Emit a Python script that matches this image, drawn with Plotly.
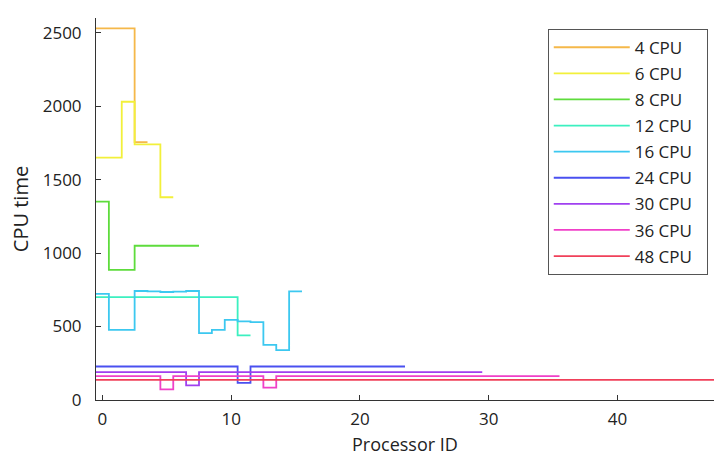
import numpy as np
import plotly.graph_objects as go

series_names = ["4 CPU", "6 CPU", "8 CPU", "12 CPU", "16 CPU", "24 CPU", "30 CPU", "36 CPU", "48 CPU"]

cpu4 = [2530, 2530, 2530, 1755]
cpu6 = [1650, 1650, 2030, 1740, 1740, 1380]
cpu8 = [1350, 885, 885, 1050, 1050, 1050, 1050, 1050]
cpu12 = [700] * 11 + [440]
cpu16 = [722, 477, 477, 742, 740, 735, 738, 742, 455, 477, 545, 535, 530, 375, 340, 740]
cpu24 = [228] * 11 + [116] + [228] * 12
cpu30 = [190] * 7 + [100] + [190] * 22
cpu36 = [162] * 5 + [72] + [162] * 7 + [84] + [162] * 22
cpu48 = [137] * 48

series_values = [cpu4, cpu6, cpu8, cpu12, cpu16, cpu24, cpu30, cpu36, cpu48]
colors = ["#F5B84A", "#F2F03A", "#5EDC3C", "#3CF0C0", "#3CC8F0",
          "#4A50F0", "#A040F0", "#F040C8", "#F0405A"]

fig = go.Figure()
for name, vals, col in zip(series_names, series_values, colors):
    n = len(vals)
    xs = np.arange(n + 1) - 0.5
    ys = list(vals) + [vals[-1]]
    fig.add_trace(go.Scatter(x=xs, y=ys, mode="lines", name=name + "\u00a0\u00a0",
                             legendgroup=name,
                             line=dict(color=col, width=1.8, shape="hv")))

font = "Open Sans, Lato, sans-serif"
fig.update_layout(
    width=714, height=455,
    margin=dict(l=96, r=0, t=18, b=55),
    paper_bgcolor="white", plot_bgcolor="white",
    font=dict(family=font, size=17, color="#222"),
    showlegend=True,
    legend=dict(x=0.731, y=0.972, xanchor="left", yanchor="top",
                bordercolor="#555", borderwidth=1, bgcolor="white",
                font=dict(size=17), itemwidth=76, tracegroupgap=1),
    xaxis=dict(range=[-0.5, 47.5], tickvals=[0, 10, 20, 30, 40],
               showgrid=False, zeroline=False, showline=True, linecolor="#333",
               linewidth=1, ticks="inside", ticklen=5, tickcolor="#333",
               ticklabelstandoff=4),
    yaxis=dict(range=[0, 2600], tickvals=[0, 500, 1000, 1500, 2000, 2500],
               showgrid=False, zeroline=False, showline=True, linecolor="#333",
               linewidth=1, ticks="inside", ticklen=5, tickcolor="#333",
               ticklabelstandoff=10,
               title=dict(text="CPU time", standoff=8)),
    annotations=[dict(text="Processor ID", xref="paper", yref="paper",
                      x=0.5, y=-0.116, xanchor="center", yanchor="middle",
                      showarrow=False, font=dict(size=18, color="#222"))],
)

fig.write_html("out.html")
